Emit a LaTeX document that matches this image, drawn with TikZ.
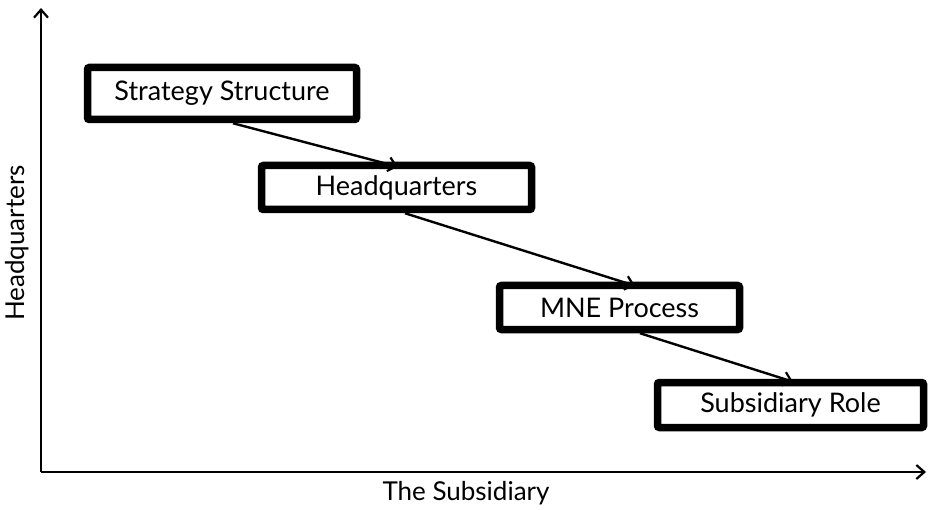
\documentclass[tikz,border=0pt]{standalone}
\usepackage{fontspec}
\setmainfont{Lato}
\usetikzlibrary{arrows.meta,calc}
\begin{document}
\begin{tikzpicture}[x=1pt,y=-1pt,
  stagebox/.style={draw=black,line width=7.5pt,rounded corners=2pt,fill=white,
    inner sep=0pt,align=center,font=\fontsize{27}{30}\selectfont},
  conn/.style={line width=2.4pt,-{Straight Barb[length=8pt,width=14pt,line width=2.2pt]}},
  axis/.style={line width=2.6pt,-{Straight Barb[length=8pt,width=14pt,line width=2.2pt]}},
  axislabel/.style={font=\fontsize{26}{30}\selectfont}]
  \useasboundingbox (0,0) rectangle (928,510);

  % axes
  \coordinate (o) at (41,472);
  \coordinate (ytop) at (41,8);
  \coordinate (xend) at (926,472);
  \draw[axis] (o) -- (ytop);
  \draw[axis] (o) -- (xend);
  \node[axislabel,rotate=90] (ylab) at (17,243) {Headquarters};
  \node[axislabel] (xlab) at (466,493) {The Subsidiary};

  % stages
  \node[stagebox,minimum width=269pt,minimum height=52pt] (s1) at (222,93.5) {Strategy Structure};
  \node[stagebox,minimum width=270pt,minimum height=44pt] (s2) at (396.5,187.5) {Headquarters};
  \node[stagebox,minimum width=240pt,minimum height=44pt] (s3) at (619.5,307.5) {MNE Process};
  \node[stagebox,minimum width=266pt,minimum height=45pt] (s4) at (790.5,405) {Subsidiary Role};

  % connectors between stages
  \draw[conn] ([xshift=11pt]s1.south) -- ([xshift=1.5pt,yshift=-5pt]s2.north);
  \draw[conn] ([xshift=8.5pt]s2.south) -- ([xshift=15.5pt,yshift=-4pt]s3.north);
  \draw[conn] ([xshift=20.5pt]s3.south) -- ([xshift=2.5pt,yshift=-3pt]s4.north);
\end{tikzpicture}
\end{document}
